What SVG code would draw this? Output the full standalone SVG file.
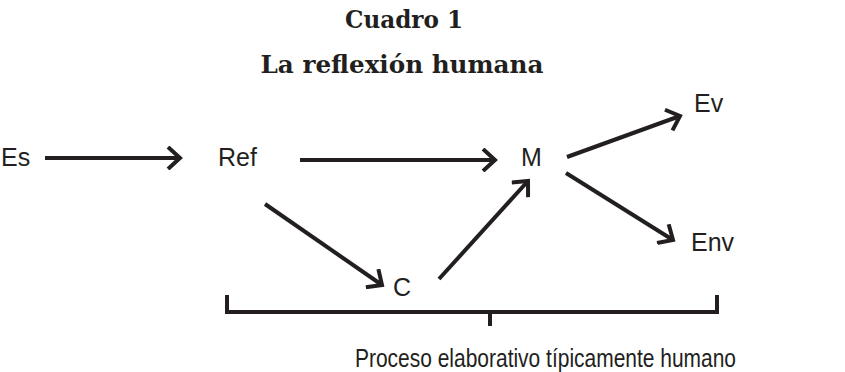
<svg xmlns="http://www.w3.org/2000/svg" width="845" height="372" viewBox="0 0 845 372">
<style>
.t{font-family:"DejaVu Serif","Liberation Serif",serif;font-weight:bold;font-size:24px;fill:#231f20;text-anchor:middle}
.n{font-family:"Liberation Sans","DejaVu Sans",sans-serif;font-size:25px;fill:#231f20}
.c{fill:none;stroke:#231f20;stroke-width:4}
</style>
<defs>
<marker id="ah" markerUnits="userSpaceOnUse" viewBox="0 0 24 24" markerWidth="24" markerHeight="24" refX="15" refY="12" orient="auto">
<path d="M3,1 L15,12 L3,23" fill="none" stroke="#231f20" stroke-width="4" stroke-linejoin="miter"/>
</marker>
</defs>
<g id="title">
<text class="t" x="404" y="28" textLength="118" lengthAdjust="spacingAndGlyphs">Cuadro 1</text>
<text class="t" x="402" y="73" textLength="283" lengthAdjust="spacingAndGlyphs">La reflexión humana</text>
</g>
<g id="node-es"><text class="n" x="1" y="166">Es</text></g>
<g id="node-ref"><text class="n" x="218" y="166">Ref</text></g>
<g id="node-m"><text class="n" x="521" y="166">M</text></g>
<g id="node-ev"><text class="n" x="694" y="112">Ev</text></g>
<g id="node-env"><text class="n" x="691" y="251">Env</text></g>
<g id="node-c"><text class="n" x="393" y="296">C</text></g>
<g id="connectors">
<line class="c" x1="45" y1="158" x2="180" y2="158" marker-end="url(#ah)"/>
<line class="c" x1="300" y1="160" x2="495" y2="160" marker-end="url(#ah)"/>
<line class="c" x1="567" y1="157" x2="680" y2="116" marker-end="url(#ah)"/>
<line class="c" x1="566" y1="173" x2="673" y2="240" marker-end="url(#ah)"/>
<line class="c" x1="265" y1="204" x2="382" y2="285" marker-end="url(#ah)"/>
<line class="c" x1="439" y1="279" x2="528" y2="181" marker-end="url(#ah)"/>
</g>
<g id="bracket">
<path class="c" d="M227,295 V312 H717 V295"/>
<line class="c" x1="490" y1="312" x2="490" y2="326"/>
<text class="n" x="355" y="367" textLength="381" lengthAdjust="spacingAndGlyphs">Proceso elaborativo típicamente humano</text>
</g>
</svg>
